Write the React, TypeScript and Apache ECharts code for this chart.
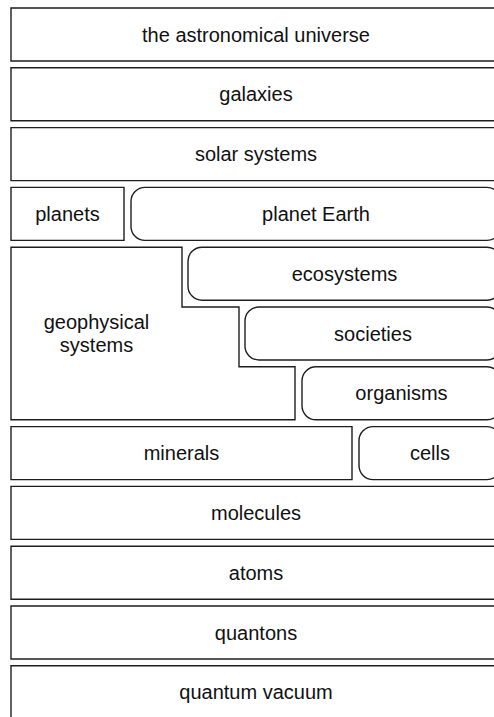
import React, { useEffect, useRef } from "react";
import * as echarts from "echarts";

// Levels of the hierarchy (row index counted from the top)
const boxLabels = [
  "the astronomical universe",
  "galaxies",
  "solar systems",
  "planets",
  "planet Earth",
  "ecosystems",
  "societies",
  "organisms",
  "minerals",
  "cells",
  "molecules",
  "atoms",
  "quantons",
  "quantum vacuum",
];
const boxRows = [0, 1, 2, 3, 3, 4, 5, 6, 7, 7, 8, 9, 10, 11];
const boxStart = [0, 0, 0, 0, 120, 177, 234, 291, 0, 348, 0, 0, 0, 0];
const boxEnd = [490, 490, 490, 113, 490, 490, 490, 490, 341, 490, 490, 490, 490, 490];
const boxRounded = [0, 0, 0, 0, 1, 1, 1, 1, 0, 1, 0, 0, 0, 0];

// Stair-shaped "geophysical systems" block
const geoLabel = "geophysical\nsystems";
const geoStepRows = [4, 5, 6];
const geoStepEnds = [171, 228, 284];

const ROW_FILL = 53 / 59.8;
const FONT = "'Liberation Sans', Arial, Helvetica, sans-serif";
const STROKE = "#1e1e1e";

export default function App() {
  const ref = useRef<HTMLDivElement>(null);
  useEffect(() => {
    document.body.style.margin = "0";
    const chart = echarts.init(ref.current!, null, { renderer: "svg" });
    const boxData = boxLabels.map((_, i) => [boxStart[i], boxEnd[i], boxRows[i], boxRounded[i]]);
    const textStyle = (text: string, x: number, y: number) => ({
      text,
      x,
      y,
      align: "center",
      verticalAlign: "middle",
      textAlign: "center",
      textVerticalAlign: "middle",
      fontSize: 20,
      fontFamily: FONT,
      lineHeight: 23,
      fill: "#111",
    });
    chart.setOption({
      animation: false,
      grid: { left: 11, top: 8, width: 490, height: 12 * 59.8, outerBoundsMode: "none", containLabel: false },
      xAxis: { type: "value", min: 0, max: 490, show: false },
      yAxis: { type: "value", min: 0, max: 12, inverse: true, show: false },
      series: [
        {
          type: "custom",
          clip: false,
          data: boxData,
          renderItem: (params: any, api: any) => {
            const p0 = api.coord([api.value(0), api.value(2)]);
            const p1 = api.coord([api.value(1), api.value(2) + ROW_FILL]);
            const r = api.value(3) ? 14 : 0;
            return {
              type: "group",
              children: [
                {
                  type: "rect",
                  shape: { x: p0[0], y: p0[1], width: p1[0] - p0[0], height: p1[1] - p0[1], r },
                  style: { fill: "#fff", stroke: STROKE, lineWidth: 1.4 },
                },
                {
                  type: "text",
                  style: textStyle(boxLabels[params.dataIndex], (p0[0] + p1[0]) / 2, (p0[1] + p1[1]) / 2),
                },
              ],
            };
          },
        },
        {
          type: "custom",
          clip: false,
          data: [[0]],
          renderItem: (_params: any, api: any) => {
            const pts: number[][] = [];
            const first = geoStepRows[0];
            const last = geoStepRows[geoStepRows.length - 1];
            pts.push(api.coord([0, first]));
            geoStepRows.forEach((row, i) => {
              pts.push(api.coord([geoStepEnds[i], row]));
              const nextRow = i < geoStepRows.length - 1 ? geoStepRows[i + 1] : last + ROW_FILL;
              pts.push(api.coord([geoStepEnds[i], nextRow]));
            });
            pts.push(api.coord([0, last + ROW_FILL]));
            const a = api.coord([0, first]);
            const b = api.coord([geoStepEnds[0], last + ROW_FILL]);
            return {
              type: "group",
              children: [
                {
                  type: "polygon",
                  shape: { points: pts },
                  style: { fill: "#fff", stroke: STROKE, lineWidth: 1.4 },
                },
                {
                  type: "text",
                  style: textStyle(geoLabel, (a[0] + b[0]) / 2, (a[1] + b[1]) / 2),
                },
              ],
            };
          },
        },
      ],
    });
    return () => chart.dispose();
  }, []);
  return (
    <div
      ref={ref}
      style={{ position: "absolute", left: 0, top: 0, width: 494, height: 717, background: "#fff", overflow: "hidden" }}
    />
  );
}
